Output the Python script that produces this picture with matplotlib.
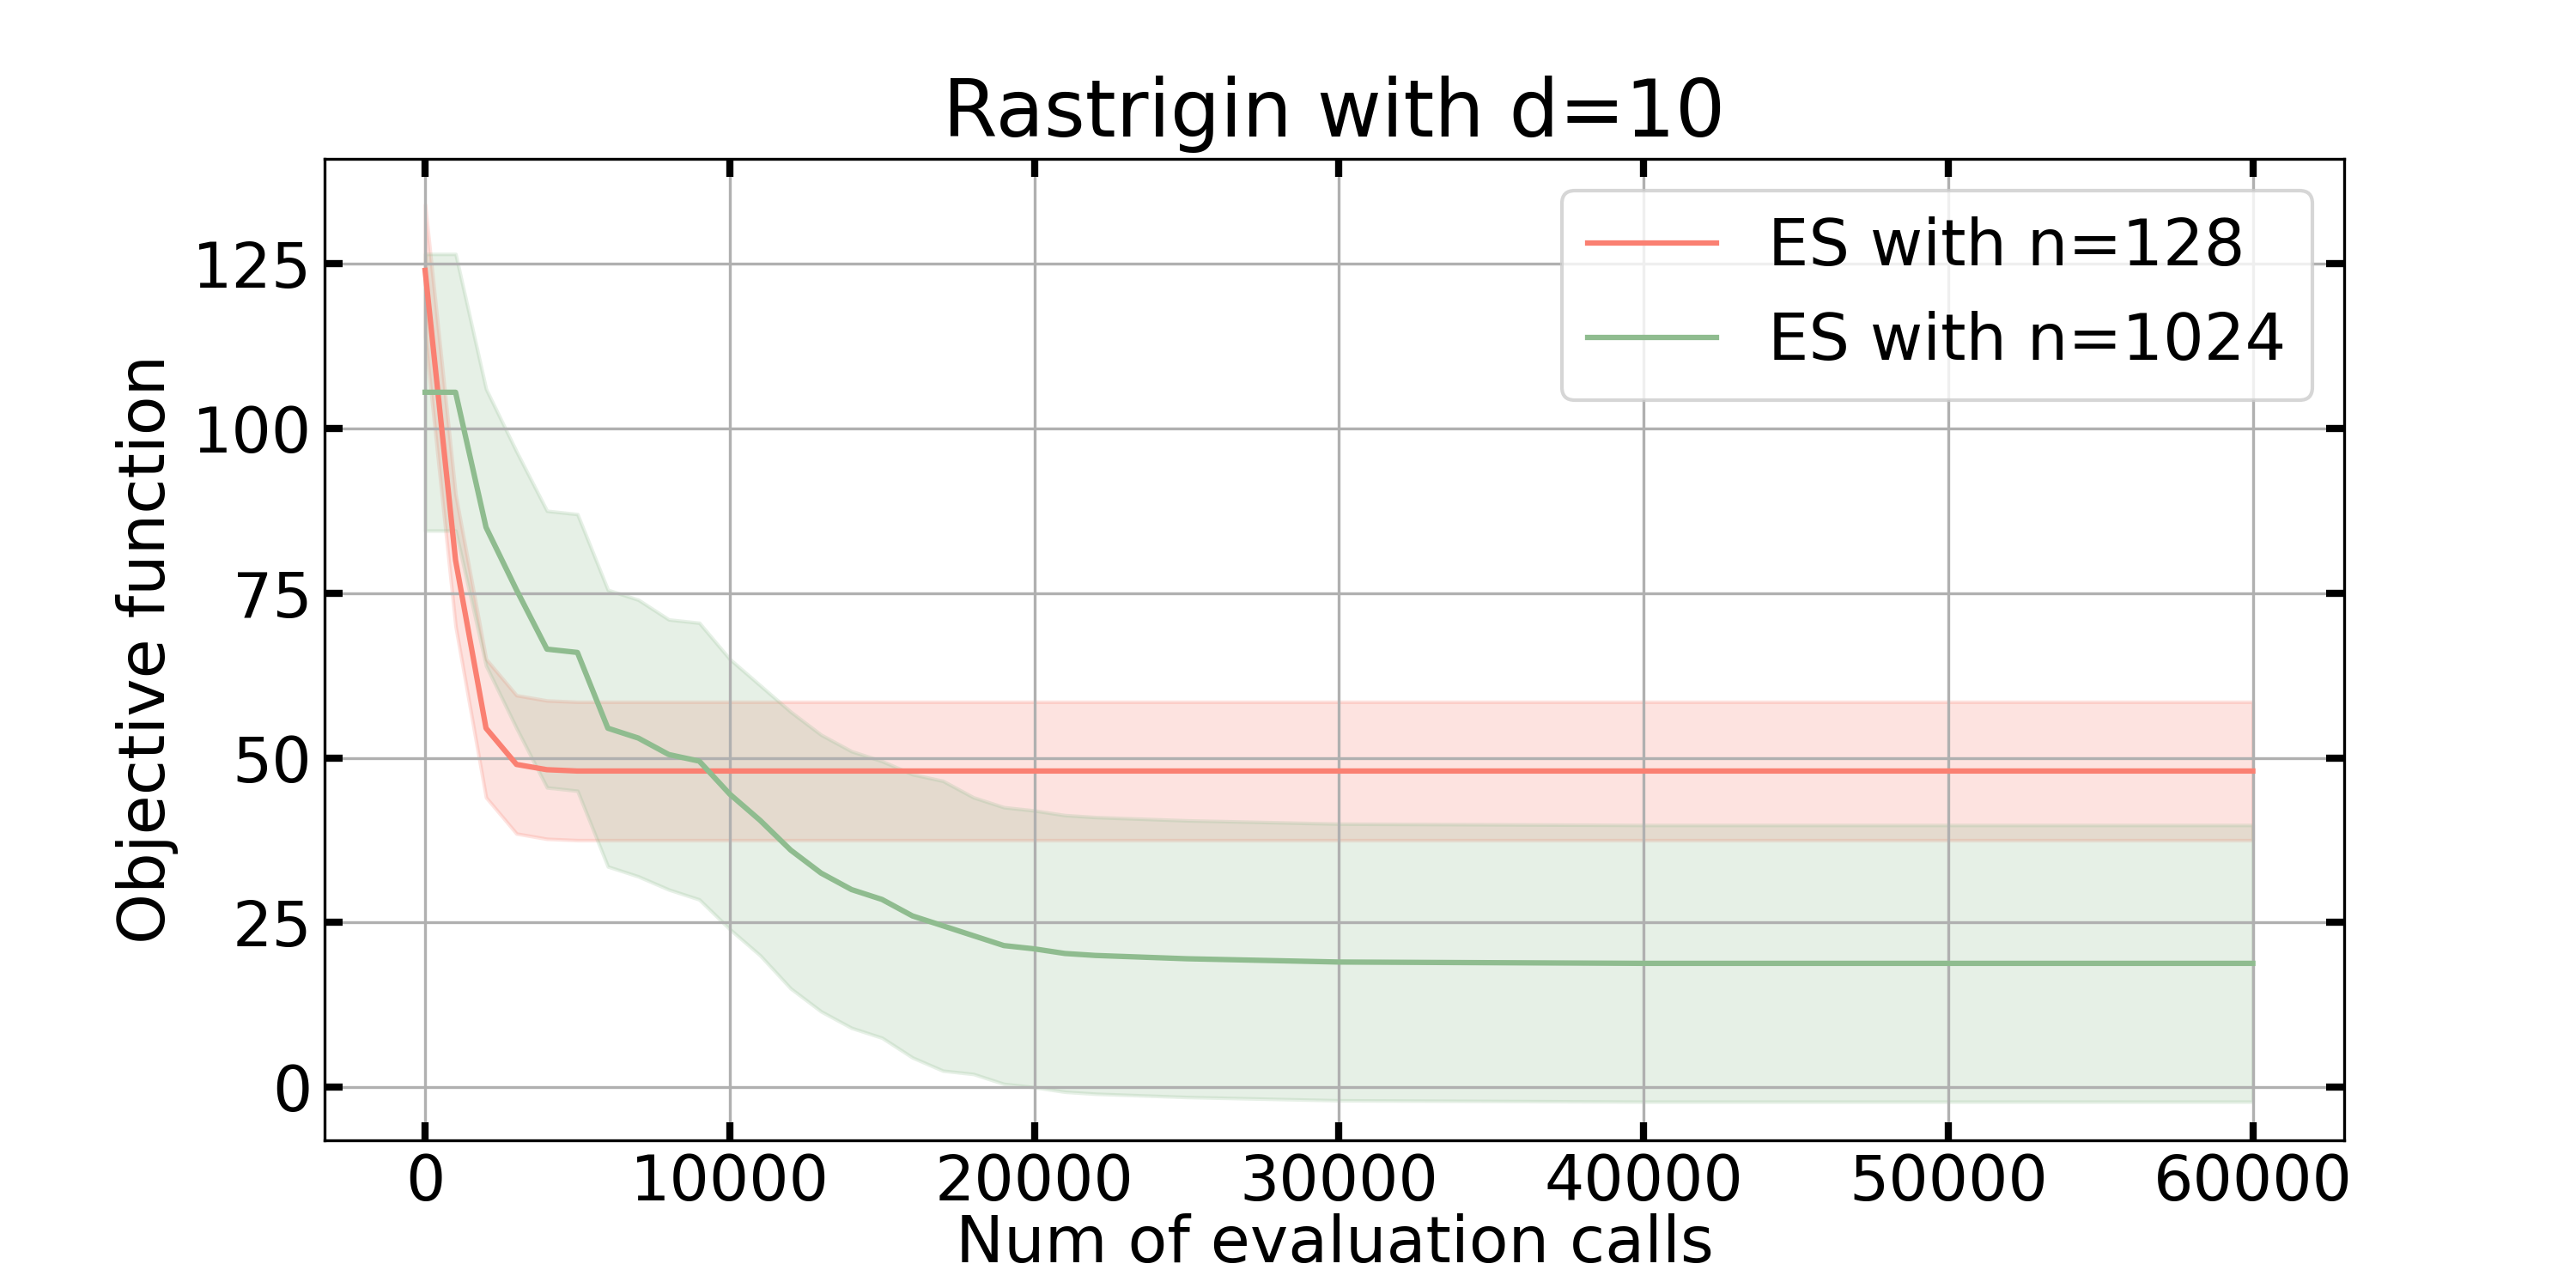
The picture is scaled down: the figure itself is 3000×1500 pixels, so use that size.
import numpy as np
import matplotlib.pyplot as plt

calls = [0, 1000, 2000, 3000, 4000, 5000, 6000, 7000, 8000, 9000, 10000,
         11000, 12000, 13000, 14000, 15000, 16000, 17000, 18000, 19000, 20000,
         21000, 22000, 25000, 30000, 40000, 50000, 60000]
es128_mean = [124, 80, 54.5, 49, 48.2, 48, 48, 48, 48, 48, 48,
              48, 48, 48, 48, 48, 48, 48, 48, 48, 48,
              48, 48, 48, 48, 48, 48, 48]
es128_std = [10, 10, 10.5, 10.5, 10.5, 10.5, 10.5, 10.5, 10.5, 10.5, 10.5,
             10.5, 10.5, 10.5, 10.5, 10.5, 10.5, 10.5, 10.5, 10.5, 10.5,
             10.5, 10.5, 10.5, 10.5, 10.5, 10.5, 10.5]
es1024_mean = [105.5, 105.5, 85, 75.5, 66.5, 66, 54.5, 53, 50.5, 49.5, 44.5,
               40.5, 36, 32.5, 30, 28.5, 26, 24.5, 23, 21.5, 21,
               20.3, 20, 19.5, 19, 18.8, 18.8, 18.8]
es1024_std = [21, 21, 21, 21, 21, 21, 21, 21, 20.5, 21, 20.5,
              20.5, 21, 21, 21, 21, 21.5, 22, 21, 21, 21,
              21, 21, 21, 21, 21, 21, 21]

fig = plt.figure(figsize=(10, 5), dpi=300)
ax = fig.add_axes([0.126, 0.115, 0.784, 0.762])

m = np.array(es128_mean); s = np.array(es128_std)
ax.plot(calls, m, color="#fa8072", lw=1.5, label="ES with n=128")
ax.fill_between(calls, m - s, m + s, color="#fa8072", alpha=0.22)
m = np.array(es1024_mean); s = np.array(es1024_std)
ax.plot(calls, m, color="#8fbc8f", lw=1.5, label="ES with n=1024")
ax.fill_between(calls, m - s, m + s, color="#8fbc8f", alpha=0.22)

ax.set_xlim(-3300, 63000)
ax.set_ylim(-8, 141)
ax.set_yticks([0, 25, 50, 75, 100, 125])
ax.set_xticks(range(0, 60001, 10000))
ax.tick_params(direction="in", top=True, right=True, width=2, length=5, labelsize=17.5)
ax.grid(True, color="#b0b0b0", lw=0.8)
ax.set_xlabel("Num of evaluation calls", fontsize=18, labelpad=0)
ax.set_ylabel("Objective function", fontsize=18)
ax.set_title("Rastrigin with d=10", fontsize=22)
ax.legend(loc="upper right", fontsize=18)
fig.savefig("out.png")
